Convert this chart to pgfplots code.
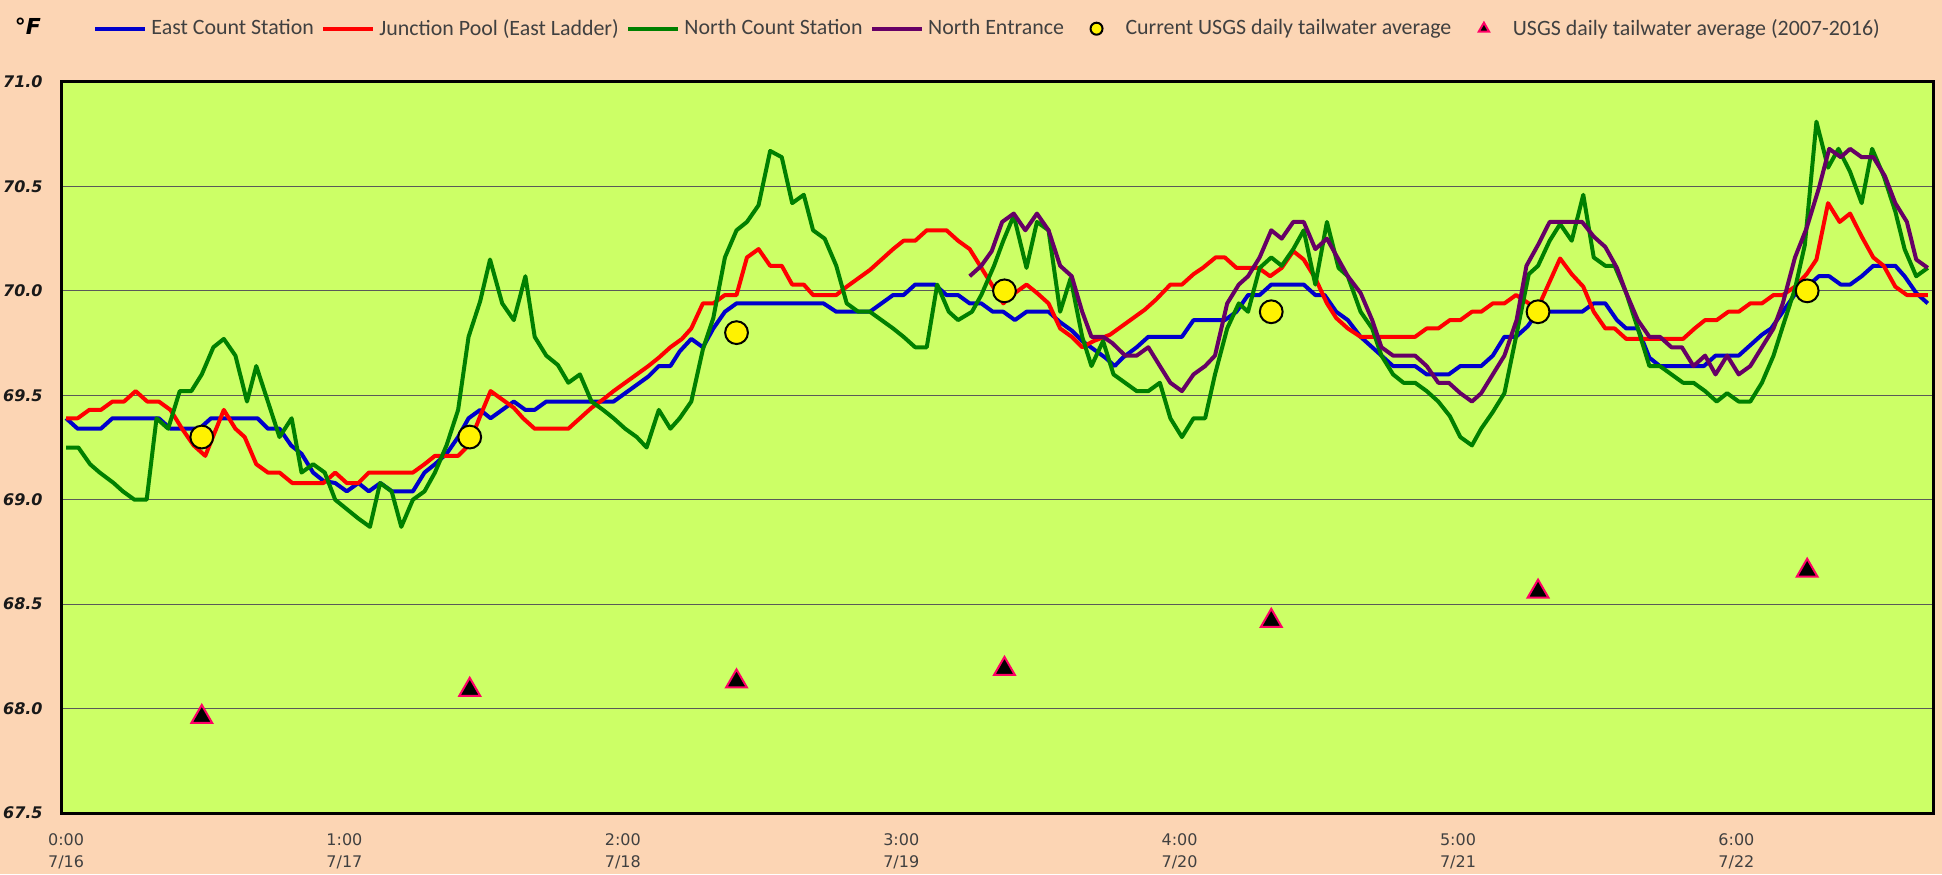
\documentclass[border=0pt]{standalone}
\usepackage{fontspec}
\setmainfont{DejaVu Sans}
\newfontfamily\legendfont{Carlito}
\usepackage{pgfplots}
\pgfplotsset{compat=1.18}
\definecolor{bgpeach}{HTML}{FCD5B4}
\definecolor{plotgreen}{HTML}{CCFF66}
\definecolor{gridgray}{HTML}{595959}
\definecolor{cblue}{HTML}{0000CC}
\definecolor{cred}{HTML}{FF0000}
\definecolor{cgreen}{HTML}{008000}
\definecolor{cpurple}{HTML}{660066}
\definecolor{cpink}{HTML}{FF0066}
\definecolor{txtgray}{HTML}{404040}
\begin{document}
\begin{tikzpicture}
\fill[bgpeach] (0,0) rectangle (971pt,437pt);
\node[font=\fontsize{11}{12}\selectfont\bfseries\itshape] at (14pt,424pt) {°F};
\begin{axis}[
  at={(31pt,30.5pt)}, anchor=south west,
  scale only axis, width=935.5pt, height=365.5pt,
  xmin=-0.35, xmax=160.95, ymin=67.5, ymax=71.0,
  axis background/.style={fill=plotgreen},
  axis line style={black, line width=1.5pt},
  ytick={67.5,68.0,68.5,69.0,69.5,70.0,70.5,71.0},
  ymajorgrids, grid style={gridgray, line width=0.6pt},
  major tick length=0pt, tick style={draw=none},
  xtick={0,24,48,72,96,120,144},
  xticklabels={{0:00\\7/16},{1:00\\7/17},{2:00\\7/18},{3:00\\7/19},{4:00\\7/20},{5:00\\7/21},{6:00\\7/22}},
  xticklabel style={align=center, font=\fontsize{8}{11}\selectfont, text=txtgray, inner sep=0pt, yshift=-10pt},
  /pgf/number format/assume math mode=true,
  yticklabel={\pgfmathprintnumber[fixed,fixed zerofill,precision=1]{\tick}},
  yticklabel style={font=\fontsize{8}{9}\selectfont\bfseries\itshape, inner sep=0pt, xshift=-9.5pt, text=black!90},
  legend columns=-1,
  legend style={at={(0.0166,1.0729)}, anchor=west, draw=none, fill=none, inner sep=0pt,
    font=\legendfont\fontsize{10.95}{13}\selectfont, text=txtgray,
    nodes={inner xsep=2pt, inner ysep=0pt}, column sep=0pt,
    /tikz/every even column/.append style={column sep=1.8pt}},
  legend image code/.code={\path[draw=none,fill=none] (0pt,-3pt) rectangle (25pt,3pt);
    \draw[mark repeat=2,mark phase=2,#1] plot coordinates {(0pt,0pt) (12.5pt,0pt) (25pt,0pt)};},
  legend image post style={mark size=3pt},
]
% East Count Station
\addplot[cblue, line width=2pt, line join=round] coordinates {
(0,69.39) (1,69.34) (3,69.34) (4,69.39) (8,69.39) (9,69.34) (11.5,69.34) (12.5,69.39)
(16.5,69.39) (17.4,69.34) (18.4,69.34) (19.4,69.26) (20.3,69.22) (21.3,69.13) (22.2,69.09)
(23.2,69.08) (24.2,69.04) (25.2,69.08) (26.1,69.04) (27.1,69.08) (28.1,69.04) (29.9,69.04)
(30.9,69.13) (31.8,69.17) (32.8,69.22) (33.8,69.30) (34.7,69.39) (35.7,69.43) (36.6,69.39)
(38.6,69.47) (39.6,69.43) (40.4,69.43) (41.4,69.47) (47.2,69.47) (48.2,69.51) (49.2,69.55)
(50.2,69.59) (51.1,69.64) (52.1,69.64) (52.9,69.71) (53.9,69.77) (54.9,69.73) (55.8,69.82)
(56.8,69.90) (57.8,69.94) (65.3,69.94) (66.4,69.90) (69.3,69.90) (70.3,69.94) (71.3,69.98)
(72.2,69.98) (73.2,70.03) (74.9,70.03) (75.9,69.98) (76.9,69.98) (77.9,69.94) (78.9,69.94)
(79.9,69.90) (80.8,69.90) (81.8,69.86) (82.8,69.90) (84.7,69.90) (85.7,69.85) (86.7,69.81)
(87.6,69.76) (88.6,69.72) (89.6,69.68) (90.4,69.64) (91.1,69.68) (92.3,69.73) (93.3,69.78)
(96.2,69.78) (97.2,69.86) (99.9,69.86) (100.9,69.90) (101.9,69.98) (102.9,69.98) (103.9,70.03)
(106.7,70.03) (107.7,69.98) (108.5,69.98) (109.5,69.90) (110.5,69.86) (111.6,69.78) (112.6,69.73)
(113.4,69.69) (114.4,69.64) (116.3,69.64) (117.3,69.60) (119.2,69.60) (120.2,69.64) (122,69.64)
(123,69.69) (124,69.78) (125,69.78) (126,69.83) (126.9,69.90) (130.7,69.90) (131.7,69.94)
(132.7,69.94) (133.7,69.86) (134.5,69.82) (135.5,69.82) (136.5,69.68) (137.4,69.64) (141.2,69.64)
(142.2,69.69) (144.2,69.69) (145.2,69.74) (146.2,69.79) (147,69.82) (148,69.90) (149,69.98)
(150.1,70.02) (151.1,70.07) (152,70.07) (153,70.03) (153.8,70.03) (154.8,70.07) (155.8,70.12)
(157.7,70.12) (158.5,70.07) (159.5,69.99) (160.5,69.94)
};
\addlegendentry{East Count Station}
% Junction Pool (East Ladder)
\addplot[cred, line width=2pt, line join=round] coordinates {
(0,69.39) (1,69.39) (2,69.43) (3,69.43) (4,69.47) (5,69.47) (6,69.52) (7,69.47) (8,69.47)
(9,69.43) (10,69.34) (11,69.26) (12,69.21) (13.6,69.43) (14.6,69.34) (15.4,69.30) (16.4,69.17)
(17.4,69.13) (18.4,69.13) (19.5,69.08) (22.2,69.08) (23.2,69.13) (24.2,69.08) (25.2,69.08)
(26.1,69.13) (29.9,69.13) (30.9,69.17) (31.8,69.21) (33.8,69.21) (34.7,69.26) (35.7,69.40)
(36.6,69.52) (37.6,69.48) (38.6,69.44) (39.4,69.39) (40.4,69.34) (43.3,69.34) (44.3,69.39)
(45.3,69.44) (46.3,69.48) (47.2,69.52) (48.2,69.56) (49.2,69.60) (50.2,69.64) (51.1,69.68)
(52.1,69.73) (53.1,69.77) (53.9,69.82) (54.9,69.94) (55.8,69.94) (56.8,69.98) (57.8,69.98)
(58.7,70.16) (59.7,70.20) (60.7,70.12) (61.7,70.12) (62.6,70.03) (63.6,70.03) (64.4,69.98)
(66.4,69.98) (67.3,70.02) (68.3,70.06) (69.3,70.10) (70.3,70.15) (71.3,70.20) (72.2,70.24)
(73.2,70.24) (74.2,70.29) (75.9,70.29) (76.9,70.24) (77.9,70.20) (78.8,70.12) (79.8,70.03)
(80.8,69.94) (81.8,69.99) (82.8,70.03) (83.7,69.99) (84.7,69.94) (85.7,69.82) (86.7,69.78)
(87.6,69.73) (88.6,69.76) (90,69.79) (91,69.83) (92,69.87) (93,69.91) (94,69.96) (95.2,70.03)
(96.2,70.03) (97.2,70.08) (98,70.11) (99.1,70.16) (99.9,70.16) (100.9,70.11) (102.8,70.11)
(103.8,70.07) (104.8,70.11) (105.8,70.19) (106.7,70.15) (107.7,70.06) (108.7,69.94) (109.5,69.87)
(110.5,69.82) (111.6,69.78) (116.3,69.78) (117.3,69.82) (118.3,69.82) (119.3,69.86) (120.2,69.86)
(121.2,69.90) (122,69.90) (123,69.94) (124,69.94) (125,69.98) (126.1,69.94) (126.9,69.92)
(128.8,70.155) (129.8,70.08) (130.8,70.02) (131.7,69.90) (132.7,69.82) (133.5,69.82) (134.5,69.77)
(139.4,69.77) (140.4,69.82) (141.3,69.86) (142.3,69.86) (143.3,69.90) (144.2,69.90) (145.2,69.94)
(146.2,69.94) (147.2,69.98) (148,69.98) (149.05,70.02) (150.05,70.08) (150.9,70.15) (151.9,70.42)
(152.9,70.33) (153.8,70.37) (154.8,70.26) (155.8,70.16) (156.7,70.12) (157.7,70.02) (158.7,69.98)
(160.5,69.98)
};
\addlegendentry{Junction Pool (East Ladder)}
% North Count Station
\addplot[cgreen, line width=2pt, line join=round] coordinates {
(0,69.25) (1.06,69.25) (2.07,69.17) (2.9,69.13) (4.1,69.08) (4.9,69.04) (5.9,69.00) (6.95,69.00)
(7.8,69.39) (8.8,69.34) (9.8,69.52) (10.8,69.52) (11.7,69.60) (12.7,69.73) (13.6,69.77) (14.6,69.69)
(15.6,69.47) (16.4,69.64) (17.4,69.47) (18.4,69.30) (19.45,69.39) (20.3,69.13) (21.3,69.17)
(22.3,69.13) (23.2,69.00) (24.2,68.955) (25.2,68.91) (26.2,68.87) (27.07,69.08) (28.07,69.04)
(28.9,68.87) (29.9,69.00) (30.9,69.04) (31.8,69.13) (32.8,69.26) (33.8,69.43) (34.7,69.78)
(35.7,69.95) (36.55,70.15) (37.6,69.94) (38.6,69.86) (39.6,70.07) (40.4,69.78) (41.4,69.69)
(42.4,69.645) (43.3,69.56) (44.3,69.60) (45.3,69.47) (46.3,69.43) (47.2,69.39) (48.2,69.34)
(49.2,69.30) (50.05,69.25) (51.1,69.43) (52.1,69.34) (52.9,69.39) (53.9,69.47) (54.9,69.72)
(55.8,69.87) (56.8,70.16) (57.8,70.29) (58.7,70.33) (59.7,70.41) (60.7,70.67) (61.7,70.64)
(62.6,70.42) (63.6,70.46) (64.4,70.29) (65.4,70.25) (66.4,70.12) (67.3,69.94) (68.3,69.90)
(69.3,69.90) (70.3,69.86) (71.3,69.82) (72.2,69.78) (73.2,69.73) (74.2,69.73) (75.1,70.03)
(76.1,69.90) (76.9,69.86) (78.1,69.90) (78.9,69.98) (80,70.12) (80.8,70.24) (81.7,70.36)
(82.8,70.11) (83.7,70.33) (84.7,70.29) (85.7,69.90) (86.6,70.06) (87.6,69.78) (88.4,69.64)
(89.4,69.76) (90.3,69.60) (91.3,69.56) (92.3,69.52) (93.3,69.52) (94.3,69.56) (95.2,69.39)
(96.2,69.30) (97.2,69.39) (98.2,69.39) (99.05,69.60) (100.1,69.82) (101.1,69.94) (101.9,69.90)
(102.9,70.11) (103.9,70.16) (104.8,70.12) (105.8,70.20) (106.7,70.29) (107.7,70.03) (108.7,70.33)
(109.7,70.11) (110.5,70.07) (111.6,69.90) (112.6,69.82) (113.4,69.69) (114.4,69.60) (115.3,69.56)
(116.3,69.56) (117.3,69.52) (118.3,69.47) (119.3,69.40) (120.2,69.30) (121.2,69.26) (122,69.34)
(123,69.42) (124,69.51) (125,69.78) (126.1,70.08) (126.9,70.12) (127.9,70.24) (128.8,70.32)
(129.8,70.24) (130.8,70.46) (131.7,70.16) (132.7,70.12) (133.5,70.12) (134.5,69.99) (135.5,69.82)
(136.5,69.64) (137.4,69.64) (138.4,69.60) (139.4,69.56) (140.3,69.56) (141.3,69.52) (142.3,69.47)
(143.2,69.51) (144.2,69.47) (145.2,69.47) (146.2,69.56) (147.2,69.69) (148,69.83) (149.05,70.01)
(149.9,70.22) (150.9,70.81) (151.9,70.59) (152.8,70.68) (153.8,70.57) (154.8,70.42) (155.7,70.68)
(156.7,70.55) (157.7,70.38) (158.5,70.20) (159.5,70.07) (160.5,70.11)
};
\addlegendentry{North Count Station}
% North Entrance
\addplot[cpurple, line width=2pt, line join=round] coordinates {
(77.9,70.07) (78.9,70.12) (79.8,70.19) (80.7,70.33) (81.7,70.37) (82.7,70.29) (83.7,70.37)
(84.7,70.29) (85.7,70.12) (86.7,70.07) (87.6,69.90) (88.4,69.78) (89.4,69.78) (90.2,69.75)
(91.3,69.69) (92.3,69.69) (93.3,69.73) (94.3,69.64) (95.2,69.56) (96.2,69.52) (97.2,69.60)
(98.2,69.64) (99.05,69.69) (100.1,69.94) (101.1,70.03) (101.9,70.07) (102.9,70.16) (103.9,70.29)
(104.8,70.25) (105.8,70.33) (106.7,70.33) (107.7,70.20) (108.7,70.25) (109.7,70.15) (110.5,70.07)
(111.6,69.99) (112.6,69.86) (113.4,69.73) (114.4,69.69) (116.3,69.69) (117.3,69.64) (118.3,69.56)
(119.2,69.56) (120.2,69.51) (121.2,69.47) (122,69.51) (123,69.60) (124,69.69) (125.05,69.86)
(125.9,70.12) (126.9,70.22) (127.9,70.33) (130.7,70.33) (131.7,70.26) (132.7,70.21) (133.7,70.11)
(134.5,69.99) (135.5,69.86) (136.5,69.78) (137.4,69.78) (138.4,69.73) (139.3,69.73) (140.3,69.64)
(141.3,69.69) (142.2,69.60) (143.2,69.69) (144.2,69.60) (145.2,69.64) (146.2,69.73) (147.2,69.82)
(148,69.94) (149.05,70.16) (150.05,70.30) (151.1,70.49) (152,70.68) (153,70.64) (153.8,70.68)
(154.8,70.64) (155.8,70.64) (156.8,70.55) (157.7,70.42) (158.7,70.33) (159.5,70.15) (160.5,70.11)
};
\addlegendentry{North Entrance}
\addplot[only marks, mark=*, mark size=5.7pt, mark options={fill=yellow, draw=black, line width=1pt}] coordinates {
(11.7,69.3) (34.8,69.3) (57.8,69.8) (80.9,70.0) (103.9,69.9) (126.9,69.9) (150.1,70.0)
};
\addlegendentry{Current USGS daily tailwater average}
\addplot[only marks, mark=triangle*, mark size=6pt, mark options={fill=black, draw=cpink, line width=1pt}] coordinates {
(11.7,67.96) (34.8,68.09) (57.8,68.13) (80.9,68.19) (103.9,68.42) (126.9,68.56) (150.1,68.66)
};
\addlegendentry{USGS daily tailwater average (2007-2016)}
\end{axis}
\pgfresetboundingbox
\path[use as bounding box] (0,0) rectangle (971pt,437pt);
\end{tikzpicture}
\end{document}
